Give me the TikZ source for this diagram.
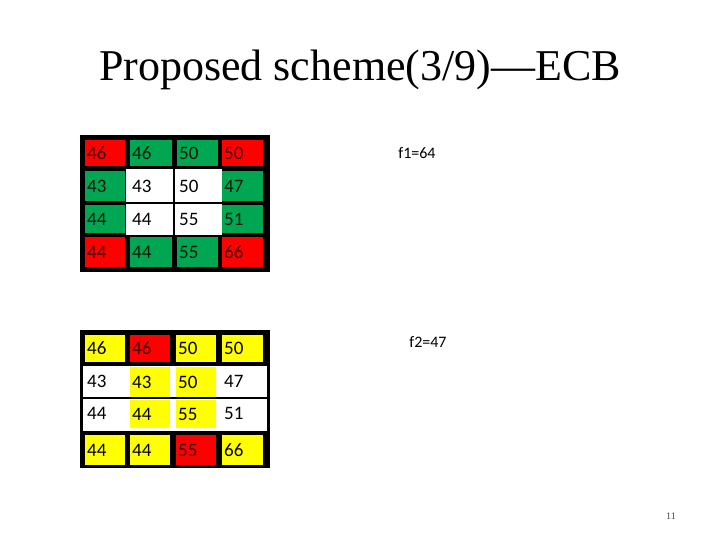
\documentclass[tikz,border=0pt]{standalone}
\usepackage{fontspec}
\setmainfont{Carlito}
\newfontfamily\titlefont{Liberation Serif}
\definecolor{cg}{HTML}{00A651}
\definecolor{cr}{HTML}{FF0000}
\definecolor{cy}{HTML}{FFFF00}
\definecolor{tr}{HTML}{3A0000}
\definecolor{tg}{HTML}{001A08}
\begin{document}
\begin{tikzpicture}[x=1pt,y=-1pt,
  numtxt/.style={anchor=west,font=\fontsize{19}{19}\selectfont,inner sep=0pt}]
\useasboundingbox[fill=white] (0,0) rectangle (720,540);
\node[font=\titlefont\fontsize{44}{44}\selectfont] (title) at (360,70) {Proposed scheme(3/9)—ECB};
\newcommand\mycell[7]{\fill[#5] (#1,#2) rectangle (#3,#4);
  \node[numtxt,text=#6] (#7) at (#1+2,{(#2+#4)/2}) {#7};}
% top grid
\fill[black] (80,135) rectangle (270,272);
\fill[white] (126,169) rectangle (222,235);
\draw[black,line width=2] (174,169) -- (174,235) (126,203) -- (222,203);
\mycell{85}{140}{125}{166}{cr}{tr}{46}
\mycell{130}{140}{172}{166}{cg}{tg}{46}
\mycell{177}{140}{218}{166}{cg}{tg}{50}
\mycell{222}{140}{263}{166}{cr}{tr}{50}
\mycell{85}{171}{125}{201}{cg}{tg}{43}
\node[numtxt] (t43) at (132,186) {43};
\node[numtxt] (t50) at (179,186) {50};
\mycell{222}{171}{263}{201}{cg}{tg}{47}
\mycell{85}{205}{125}{233}{cg}{tg}{44}
\node[numtxt] (t44) at (132,219) {44};
\node[numtxt] (t55) at (179,219) {55};
\mycell{222}{205}{263}{233}{cg}{tg}{51}
\mycell{85}{237}{125}{267}{cr}{tr}{44}
\mycell{130}{237}{172}{267}{cg}{tg}{44}
\mycell{177}{237}{218}{267}{cg}{tg}{55}
\mycell{222}{237}{263}{267}{cr}{tr}{66}
\node[font=\fontsize{16}{16}\selectfont] (f1) at (417,153) {f1=64};
% bottom grid
\fill[black] (80,330) rectangle (270,468);
\fill[white] (83,366) rectangle (267,431);
\draw[black,line width=2] (83,398) -- (267,398);
\mycell{85}{335}{125}{362}{cy}{black}{46}
\mycell{130}{335}{170}{362}{cr}{tr}{46}
\mycell{176}{335}{216}{362}{cy}{black}{50}
\mycell{222}{335}{263}{362}{cy}{black}{50}
\node[numtxt] (b43) at (87,381) {43};
\mycell{130}{367}{170}{397}{cy}{black}{43}
\mycell{176}{367}{216}{397}{cy}{black}{50}
\node[numtxt] (b47) at (224,381) {47};
\node[numtxt] (b44) at (87,413) {44};
\mycell{130}{400}{170}{428}{cy}{black}{44}
\mycell{176}{400}{216}{428}{cy}{black}{55}
\node[numtxt] (b51) at (224,413) {51};
\mycell{85}{435}{125}{465}{cy}{black}{44}
\mycell{130}{435}{170}{465}{cy}{black}{44}
\mycell{176}{435}{216}{465}{cr}{tr}{55}
\mycell{222}{435}{263}{465}{cy}{black}{66}
\node[font=\fontsize{16}{16}\selectfont] (f2) at (428,342) {f2=47};
\node[font=\titlefont\fontsize{10}{10}\selectfont,text=black!70] (pg) at (671,516) {11};
\end{tikzpicture}
\end{document}
